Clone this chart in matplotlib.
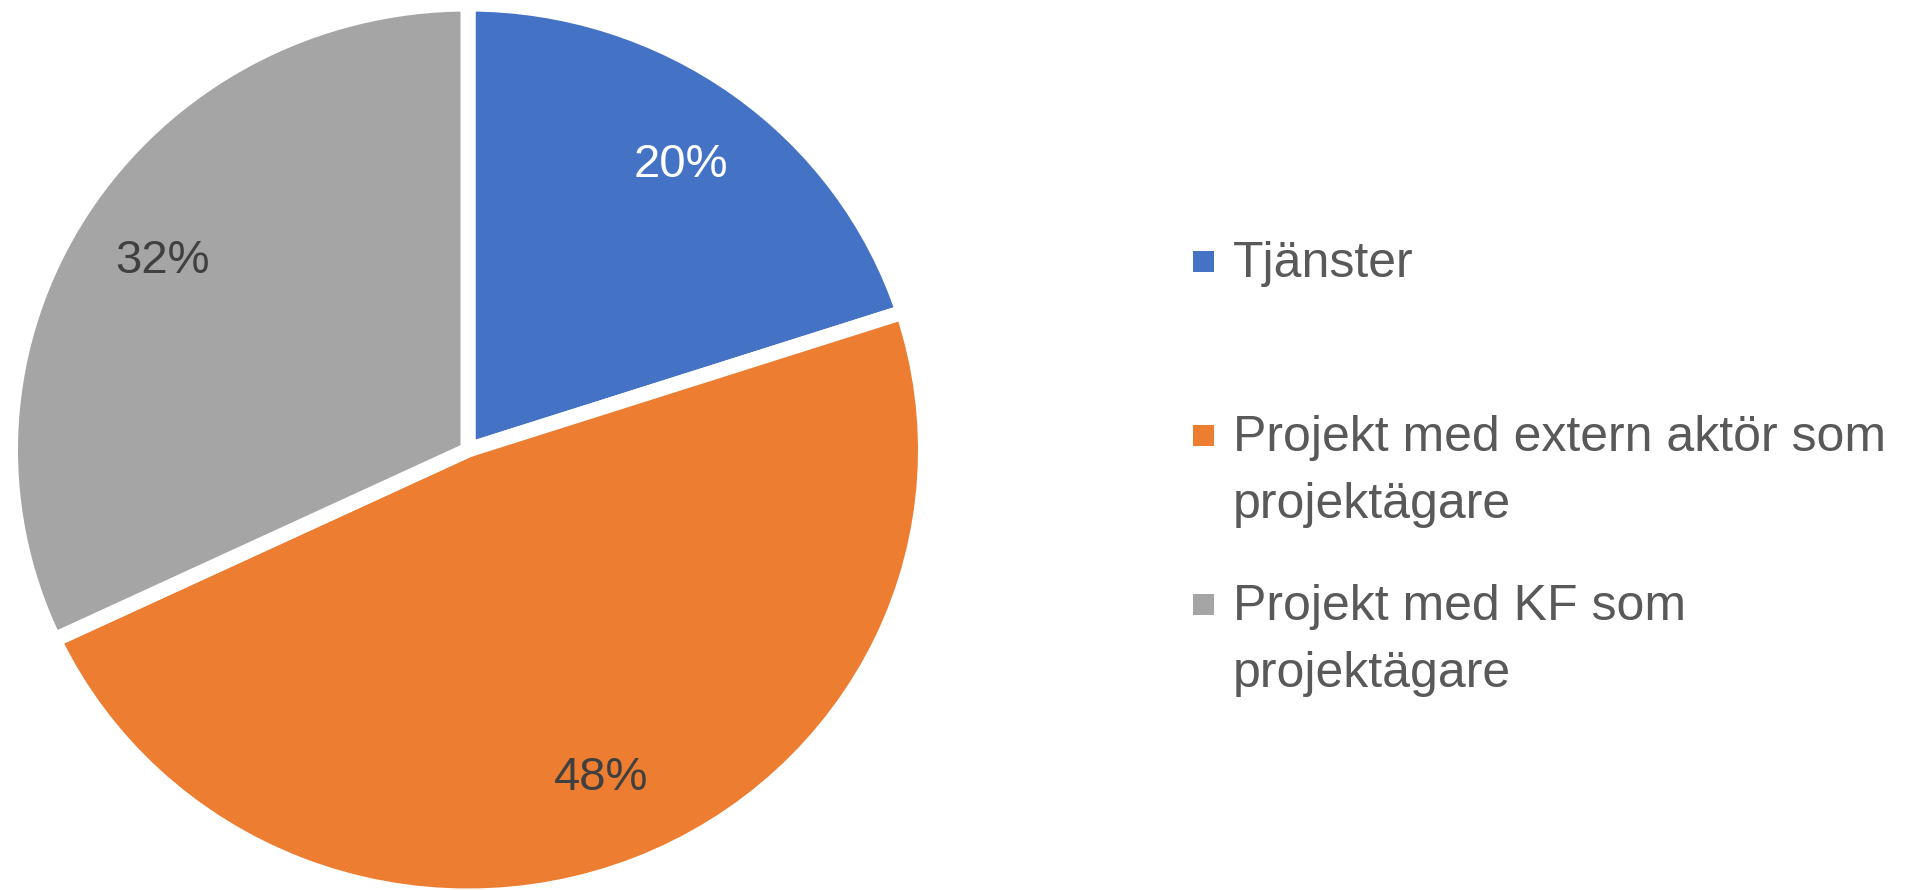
import matplotlib
matplotlib.use('Agg')
import matplotlib.pyplot as plt
from matplotlib.patches import Rectangle

# data
categories = ['Tjänster', 'Projekt med extern aktör som\nprojektägare', 'Projekt med KF som\nprojektägare']
shares = [20, 48, 32]
colors = ['#4472C4', '#ED7D31', '#A5A5A5']
pct_colors = ['white', '#404040', '#404040']

# layout (pixels from top-left of 1921x890 figure)
W, H = 1921, 890
pie_cx, pie_cy = 468, 450
pie_rx, pie_ry = 457.5, 446
edge_px = 15
legend_marker_x = 1193
legend_text_x = 1233
legend_baselines = [277, 451, 620]
line_step = 67
marker_size = 21

plt.rcParams['font.family'] = ['Liberation Sans', 'DejaVu Sans']
fig = plt.figure(figsize=(W/100, H/100), dpi=100)

ax = fig.add_axes([(pie_cx-pie_rx)/W, (H-pie_cy-pie_ry)/H, 2*pie_rx/W, 2*pie_ry/H])
wedges, texts, autotexts = ax.pie(shares, colors=colors, startangle=90, counterclock=False,
	autopct='%1.0f%%', pctdistance=0.79,
	wedgeprops=dict(edgecolor='white', linewidth=edge_px*0.72),
	textprops=dict(fontsize=34))
for t, c in zip(autotexts, pct_colors):
	t.set_color(c)
ax.set_aspect('auto')
ax.set_xlim(-1, 1)
ax.set_ylim(-1, 1)
ax.axis('off')

# legend drawn in pixel coordinates
lax = fig.add_axes([0, 0, 1, 1])
lax.set_xlim(0, W)
lax.set_ylim(H, 0)
lax.axis('off')
for label, col, base in zip(categories, colors, legend_baselines):
	lax.add_patch(Rectangle((legend_marker_x, base-16-marker_size/2), marker_size, marker_size,
		facecolor=col, edgecolor='none'))
	for k, line in enumerate(label.split('\n')):
		lax.text(legend_text_x, base + k*line_step, line, fontsize=36, color='#595959',
			ha='left', va='baseline')

plt.savefig('out.png', dpi=100, facecolor='white')
